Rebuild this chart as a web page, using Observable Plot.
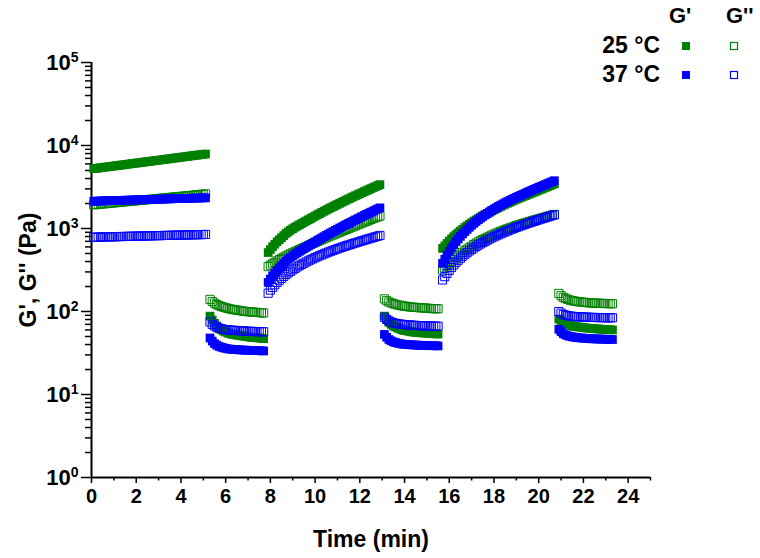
<!DOCTYPE html>
<html>
<head>
<meta charset="utf-8">
<script src="https://cdn.jsdelivr.net/npm/d3@7"></script>
<script src="https://cdn.jsdelivr.net/npm/@observablehq/plot@0.6"></script>
<style>
  html, body { margin: 0; padding: 0; background: #fff; }
  #wrap { position: relative; width: 760px; height: 558px; font-family: "Liberation Sans", Arial, sans-serif; }
  #legend { position: absolute; left: 0; top: 0; pointer-events: none; }
</style>
</head>
<body>
<div id="wrap"><div id="chart"></div><svg id="legend" width="760" height="95"></svg></div>
<script>
// sampling times (min) of the six test intervals
const time = [
  [0.1,0.2,0.3,0.4,0.5,0.6,0.7,0.8,0.9,1.0, 1.1,1.2,1.3,1.4,1.5,1.6,1.7,1.8,1.9,2.0,
   2.1,2.2,2.3,2.4,2.5,2.6,2.7,2.8,2.9,3.0, 3.1,3.2,3.3,3.4,3.5,3.6,3.7,3.8,3.9,4.0,
   4.1,4.2,4.3,4.4,4.5,4.6,4.7,4.8,4.9,5.0, 5.1],
  [5.3,5.4,5.5,5.6,5.7,5.8,5.9,6.0,6.1,6.2, 6.3,6.4,6.5,6.6,6.7,6.8,6.9,7.0,7.1,7.2, 7.3,7.4,7.5,7.6,7.7],
  [7.9,8.0,8.1,8.2,8.3,8.4,8.5,8.6,8.7,8.8, 8.9,9.0,9.1,9.2,9.3,9.4,9.5,9.6,9.7,9.8,
   9.9,10.0,10.1,10.2,10.3,10.4,10.5,10.6,10.7,10.8, 10.9,11.0,11.1,11.2,11.3,11.4,11.5,11.6,11.7,11.8,
   11.9,12.0,12.1,12.2,12.3,12.4,12.5,12.6,12.7,12.8, 12.9],
  [13.1,13.2,13.3,13.4,13.5,13.6,13.7,13.8,13.9,14.0, 14.1,14.2,14.3,14.4,14.5,14.6,14.7,14.8,14.9,15.0, 15.1,15.2,15.3,15.4,15.5],
  [15.7,15.8,15.9,16.0,16.1,16.2,16.3,16.4,16.5,16.6, 16.7,16.8,16.9,17.0,17.1,17.2,17.3,17.4,17.5,17.6,
   17.7,17.8,17.9,18.0,18.1,18.2,18.3,18.4,18.5,18.6, 18.7,18.8,18.9,19.0,19.1,19.2,19.3,19.4,19.5,19.6,
   19.7,19.8,19.9,20.0,20.1,20.2,20.3,20.4,20.5,20.6, 20.7],
  [20.9,21.0,21.1,21.2,21.3,21.4,21.5,21.6,21.7,21.8, 21.9,22.0,22.1,22.2,22.3,22.4,22.5,22.6,22.7,22.8, 22.9,23.0,23.1,23.2,23.3]
];
// G' at 25 °C (Pa)
const Gp25 = [
  [5260,5300,5350,5390,5430,5480,5520,5570,5610,5660, 5700,5750,5800,5840,5890,5940,5990,6040,6090,6140,
   6190,6240,6290,6340,6390,6440,6500,6550,6600,6650, 6710,6760,6820,6870,6930,6990,7050,7100,7160,7220,
   7280,7340,7400,7460,7520,7580,7640,7700,7770,7830, 7900],
  [88,79,72,67,63,60.5,58,56.5,55,54, 53,52.5,52,51.5,51,50.5,50,49.5,49,48.8, 48.5,48.2,48,47.5,47],
  [513,557,603,647,692,733,776,822,871,912, 955,995,1035,1071,1109,1148,1189,1231,1274,1319,
   1365,1413,1462,1512,1563,1614,1667,1722,1778,1834, 1892,1952,2014,2075,2138,2203,2270,2339,2410,2481,
   2553,2628,2704,2783,2864,2944,3027,3112,3199,3289, 3381],
  [88,80,74,70,67,65,63,61.5,60,59, 58.5,57.7,57,56.5,56,55.7,55.5,55.2,55,54.7, 54.5,54.2,54,53.7,53.5],
  [575,617,661,705,750,795,841,886,933,980, 1030,1078,1127,1175,1225,1272,1321,1371,1422,1471,
   1521,1573,1626,1679,1734,1789,1845,1901,1959,2014, 2070,2128,2188,2247,2307,2366,2427,2486,2547,2612,
   2679,2748,2818,2891,2965,3041,3119,3199,3281,3365, 3451],
  [81,77,74,72,70,68.5,67,66.2,65.5,65, 64.5,64,63.5,63,62.5,62.2,62,61.7,61.5,61.2, 61,60.7,60.5,60.2,60]
];
// G'' at 25 °C (Pa)
const Gpp25 = [
  [1930,1942,1955,1968,1980,1990,2000,2012,2025,2038, 2050,2062,2075,2088,2100,2112,2125,2138,2150,2162,
   2175,2188,2200,2212,2225,2240,2255,2268,2280,2295, 2310,2322,2335,2350,2365,2380,2395,2408,2420,2435,
   2450,2465,2480,2495,2510,2528,2545,2560,2575,2592, 2610],
  [140,132,126,121,118,115,113,111,109,107.5, 106,105,104,103,102,101,100,99.5,99,98.5, 98,97.5,97,96.5,96],
  [347,361,376,391,407,422,437,451,466,480, 495,510,525,540,556,572,589,606,624,642,
   661,679,697,716,735,754,774,795,817,838, 859,881,904,927,951,975,1000,1026,1052,1079,
   1107,1135,1164,1194,1225,1256,1288,1318,1349,1381, 1413],
  [142,135,130,127,124,122,120,118.5,117,116, 115,114,113,112.5,112,111.5,111,110.5,110,109.5, 109,108.5,108.2,108,107.8],
  [316,335,355,376,398,422,447,469,492,516, 541,564,587,613,640,664,689,712,736,760,
   783,806,830,853,877,900,923,945,968,991, 1014,1036,1059,1081,1104,1126,1148,1171,1194,1216,
   1239,1262,1285,1307,1330,1353,1377,1401,1426,1451, 1476],
  [165,155,148,144,140,137,135,133.5,132,131, 130,129.2,128.5,127.7,127,126.5,126,125.7,125.5,125.2, 125,124.7,124.5,124.2,124]
];
// G' at 37 °C (Pa)
const Gp37 = [
  [2130,2135,2140,2145,2150,2155,2160,2162,2165,2170, 2175,2180,2185,2188,2190,2195,2200,2205,2210,2212,
   2215,2220,2225,2230,2235,2238,2240,2245,2250,2255, 2260,2262,2265,2270,2275,2280,2285,2288,2290,2295,
   2300,2305,2310,2312,2315,2320,2325,2330,2335,2338, 2340],
  [48,44,41,39.3,38,37.2,36.5,36,35.5,35.2, 35,34.8,34.7,34.5,34.4,34.3,34.2,34.1,34,33.9, 33.8,33.7,33.7,33.6,33.5],
  [224,246,269,291,313,334,355,379,403,425, 447,468,490,510,531,551,571,594,617,641,
   665,690,716,743,771,798,826,856,887,917, 948,980,1014,1047,1081,1116,1153,1191,1230,1269,
   1309,1350,1393,1437,1483,1528,1574,1622,1671,1722, 1774],
  [53,49,46,44.3,43,42.2,41.5,41,40.5,40.2, 40,39.8,39.7,39.5,39.4,39.3,39.2,39.1,39,38.9, 38.8,38.7,38.7,38.6,38.5],
  [380,428,479,530,582,636,692,748,804,861, 918,976,1035,1094,1153,1213,1274,1335,1396,1458,
   1521,1584,1648,1713,1778,1844,1910,1976,2042,2107, 2173,2240,2307,2375,2443,2512,2582,2660,2742,2815,
   2891,2968,3048,3130,3214,3300,3388,3479,3573,3669, 3767],
  [61,57,54,52.3,51,50.2,49.5,49,48.5,48.2, 48,47.7,47.5,47.2,47,46.9,46.8,46.7,46.6,46.5, 46.4,46.3,46.2,46.1,46]
];
// G'' at 37 °C (Pa)
const Gpp37 = [
  [785,786,787,788,790,791,792,793,795,796, 797,798,800,801,802,803,805,806,807,808,
   810,811,812,813,815,816,817,818,820,821, 822,823,825,826,827,828,830,831,832,833,
   835,836,837,838,840,841,842,843,845,846, 848],
  [75,70,67,64.7,63,62,61,60.5,60,59.7, 59.5,59.2,59,58.7,58.5,58.2,58,57.8,57.6,57.5, 57.4,57.2,57.1,57,57],
  [166,181,195,210,224,238,251,265,279,292, 305,318,331,344,356,369,382,395,407,420,
   432,445,457,470,482,495,507,520,532,545, 557,570,582,595,607,620,632,645,658,671,
   684,697,711,724,738,752,766,780,794,809, 824],
  [85,80.5,77,74.8,73,72,71,70.5,70,69.5, 69,68.7,68.5,68.2,68,67.7,67.5,67.3,67.1,67, 66.9,66.8,66.6,66.5,66.5],
  [240,263,288,313,339,364,389,414,439,463, 488,512,536,560,583,607,631,654,678,701,
   724,747,771,794,818,841,865,888,912,935, 959,983,1007,1030,1054,1078,1102,1126,1151,1175,
   1199,1224,1250,1275,1300,1326,1352,1379,1406,1434, 1462],
  [100,95.5,92,90.3,89,88.2,87.5,87,86.5,86.2, 86,85.7,85.5,85.2,85,84.8,84.7,84.6,84.5,84.4, 84.3,84.2,84.1,84.05,84]
];

const xMajor = [0,2,4,6,8,10,12,14,16,18,20,22,24];
const xMinor = [1,3,5,7,9,11,13,15,17,19,21,23,25];
const yMajor = [1,10,100,1000,10000,100000];
const yMinor = [2,3,4,5,6,7,8,9,20,30,40,50,60,70,80,90,200,300,400,500,600,700,800,900,
  2000,3000,4000,5000,6000,7000,8000,9000,20000,30000,40000,50000,60000,70000,80000,90000];
const xTitle = "Time (min)";
const yTitle = "G', G'' (Pa)";

const GREEN = "#008000", BLUE = "#0000ff";
const rows = series => time.flatMap((ts, s) => ts.map((t, i) => ({t, v: series[s][i]})));

const chart = Plot.plot({
  width: 760, height: 558,
  marginLeft: 91, marginRight: 110, marginTop: 62, marginBottom: 81,
  x: {domain: [0, 25]},
  y: {type: "log", domain: [1, 100000]},
  style: {fontFamily: "'Liberation Sans', Arial, sans-serif", fontWeight: "bold", color: "#000", background: "#fff", overflow: "visible"},
  marks: [
    Plot.axisX({ticks: xMajor, tickSize: 6, tickPadding: 5, fontSize: 20, strokeWidth: 1.5,
      label: xTitle, labelArrow: "none", labelAnchor: "center", labelOffset: 69}),
    Plot.axisX({ticks: xMinor, tickSize: 3.5, strokeWidth: 1.5, tickFormat: () => "", label: null}),
    Plot.axisY({ticks: yMajor, tickSize: 10, tickPadding: 3, fontSize: 22, strokeWidth: 1.5,
      tickFormat: d => "10^" + Math.round(Math.log10(d)),
      label: yTitle, labelArrow: "none", labelAnchor: "center", labelOffset: 72}),
    Plot.axisY({ticks: yMinor, tickSize: 6, strokeWidth: 1.5, tickFormat: () => "", label: null}),
    Plot.ruleX([0], {strokeWidth: 2}),
    Plot.ruleY([1], {strokeWidth: 2}),
    Plot.dot(rows(Gp25), {x: "t", y: "v", symbol: "square", r: 4.9, fill: GREEN}),
    Plot.dot(rows(Gpp25), {x: "t", y: "v", symbol: "square", r: 4.6, fill: "none", stroke: GREEN, strokeWidth: 1}),
    Plot.dot(rows(Gp37), {x: "t", y: "v", symbol: "square", r: 4.9, fill: BLUE}),
    Plot.dot(rows(Gpp37), {x: "t", y: "v", symbol: "square", r: 4.6, fill: "none", stroke: BLUE, strokeWidth: 1})
  ]
});
document.getElementById("chart").appendChild(chart);

// superscript exponents on y tick labels
d3.select(chart).selectAll('g[aria-label="y-axis tick label"] text').each(function() {
  const m = (this.textContent || "").match(/^10\^(\d+)$/);
  if (m) {
    this.textContent = "10";
    d3.select(this).append("tspan").attr("dy", "-0.55em").attr("font-size", "14px").text(m[1]);
  }
});
// axis titles: exact text, size
d3.select(chart).selectAll('g[aria-label="x-axis label"] text').attr("font-size", 23).text(xTitle);
d3.select(chart).selectAll('g[aria-label="y-axis label"] text').attr("font-size", 23).text(yTitle);

// legend
const lg = d3.select("#legend").attr("font-family", "'Liberation Sans', Arial, sans-serif").attr("font-weight", "bold");
const heads = [["G'", 669], ["G''", 726]];
heads.forEach(([s, x]) => lg.append("text").attr("x", x).attr("y", 23).attr("font-size", 22).text(s));
const legRows = [["25 °C", GREEN, 53, 46], ["37 °C", BLUE, 82, 75]];
legRows.forEach(([s, c, base, cy]) => {
  lg.append("text").attr("x", 660).attr("y", base).attr("text-anchor", "end").attr("font-size", 23).text(s);
  lg.append("rect").attr("x", 682).attr("y", cy - 4).attr("width", 8).attr("height", 8).attr("fill", c);
  lg.append("rect").attr("x", 730.5).attr("y", cy - 3.5).attr("width", 7).attr("height", 7).attr("fill", "none").attr("stroke", c).attr("stroke-width", 1.2);
});
</script>
</body>
</html>
